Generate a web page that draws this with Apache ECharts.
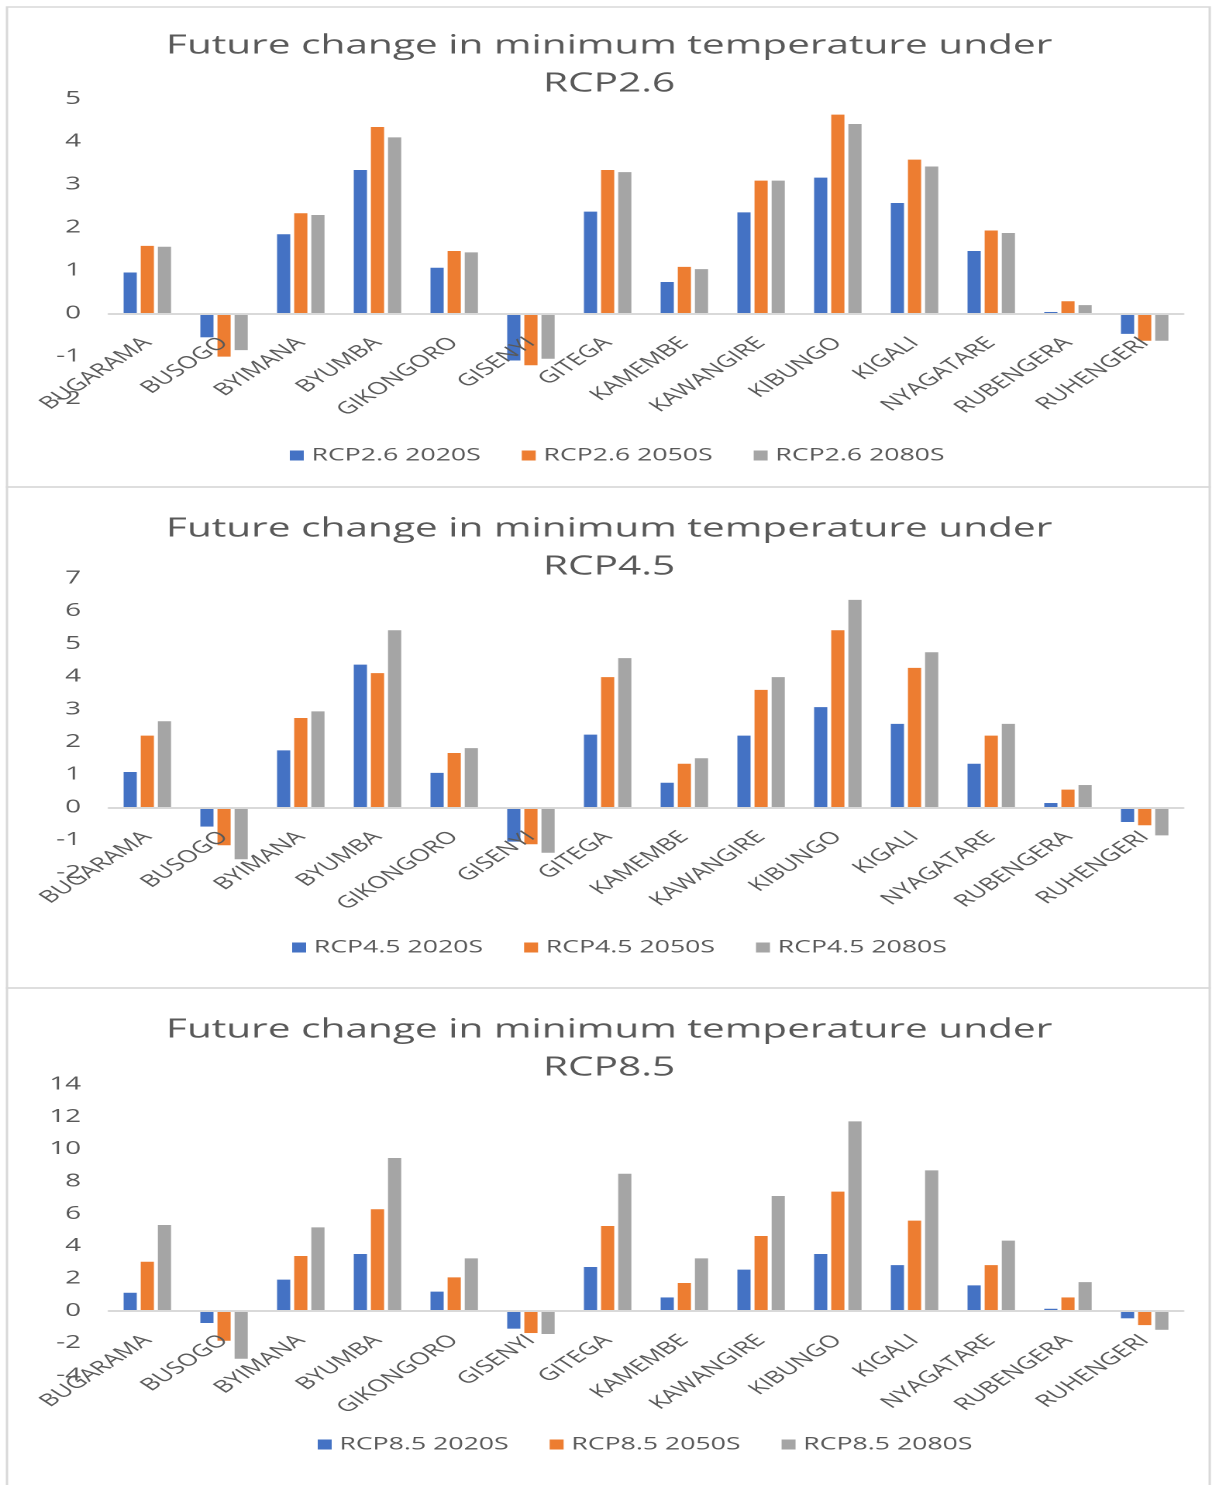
<!DOCTYPE html>
<html>
<head>
<meta charset="utf-8">
<title>Future change in minimum temperature</title>
<script src="https://cdn.jsdelivr.net/npm/echarts@6/dist/echarts.min.js"></script>
<style>
  html, body { margin: 0; padding: 0; background: #ffffff; overflow: hidden; }
  /* The figure is laid out at a narrow width and widened horizontally. */
  #chart { width: 782px; height: 1485px; transform: scaleX(1.5499); transform-origin: 0 0; }
</style>
</head>
<body>
<div id="chart"></div>
<script>
// Stations
const stations = ['BUGARAMA', 'BUSOGO', 'BYIMANA', 'BYUMBA', 'GIKONGORO', 'GISENYI', 'GITEGA',
  'KAMEMBE', 'KAWANGIRE', 'KIBUNGO', 'KIGALI', 'NYAGATARE', 'RUBENGERA', 'RUHENGERI'];

// RCP2.6 change in minimum temperature (°C)
const rcp26_2020s = [0.95, -0.56, 1.84, 3.34, 1.06, -1.10, 2.37, 0.73, 2.35, 3.16, 2.57, 1.45, 0.03, -0.48];
const rcp26_2050s = [1.57, -1.01, 2.33, 4.34, 1.45, -1.21, 3.34, 1.08, 3.09, 4.63, 3.58, 1.93, 0.28, -0.64];
const rcp26_2080s = [1.55, -0.86, 2.29, 4.10, 1.42, -1.06, 3.29, 1.03, 3.09, 4.41, 3.42, 1.87, 0.19, -0.64];

// RCP4.5 change in minimum temperature (°C)
const rcp45_2020s = [1.08, -0.59, 1.74, 4.36, 1.05, -1.05, 2.22, 0.75, 2.19, 3.06, 2.55, 1.33, 0.13, -0.45];
const rcp45_2050s = [2.19, -1.16, 2.73, 4.10, 1.66, -1.13, 3.98, 1.33, 3.59, 5.41, 4.26, 2.19, 0.54, -0.55];
const rcp45_2080s = [2.63, -1.59, 2.93, 5.41, 1.81, -1.39, 4.56, 1.50, 3.98, 6.34, 4.74, 2.55, 0.68, -0.86];

// RCP8.5 change in minimum temperature (°C)
const rcp85_2020s = [1.11, -0.76, 1.92, 3.51, 1.18, -1.11, 2.70, 0.82, 2.54, 3.51, 2.82, 1.57, 0.12, -0.47];
const rcp85_2050s = [3.03, -1.86, 3.38, 6.27, 2.06, -1.38, 5.24, 1.71, 4.62, 7.36, 5.57, 2.82, 0.82, -0.89];
const rcp85_2080s = [5.30, -2.97, 5.15, 9.44, 3.24, -1.44, 8.47, 3.24, 7.09, 11.71, 8.68, 4.33, 1.77, -1.18];

// Scenario titles, legend names and y-axis ranges
const scenarios = ['RCP2.6', 'RCP4.5', 'RCP8.5'];
const periods = ['2020S', '2050S', '2080S'];
const yRanges = [
  { min: -2, max: 5, interval: 1 },
  { min: -2, max: 7, interval: 1 },
  { min: -4, max: 14, interval: 2 }
];
const seriesValues = [
  [rcp26_2020s, rcp26_2050s, rcp26_2080s],
  [rcp45_2020s, rcp45_2050s, rcp45_2080s],
  [rcp85_2020s, rcp85_2050s, rcp85_2080s]
];

const colors = ['#4472C4', '#ED7D31', '#A5A5A5'];
const textColor = '#595959';
const font = 'Open Sans';

// Panel geometry (each chart sits in its own framed box)
const panels = [
  { y: 7,   h: 480, titleTop: 22,   gridTop: 98.7,   gridH: 300.4, legendTop: 442, legendLeft: 182 },
  { y: 487, h: 501, titleTop: 505,  gridTop: 578.3,  gridH: 294.4, legendTop: 934, legendLeft: 183.5 },
  { y: 988, h: 500, titleTop: 1006, gridTop: 1084.3, gridH: 291.1, legendTop: 1431, legendLeft: 200 }
];

// Category labels sit along the zero line: lift the x axis from the grid bottom
// by the share of the value range that lies below zero.
function zeroOffset(i) {
  const r = yRanges[i];
  return -((0 - r.min) / (r.max - r.min)) * panels[i].gridH;
}

const option = {
  backgroundColor: '#ffffff',
  color: colors,
  animation: false,
  textStyle: { fontFamily: font },
  graphic: panels.map(p => ({
    type: 'rect', silent: true, z: -1,
    shape: { x: 4.5, y: p.y, width: 776, height: p.h },
    style: { fill: 'transparent', stroke: '#D9D9D9', lineWidth: 1.5 }
  })),
  title: scenarios.map((s, i) => ({
    text: 'Future change in minimum temperature under\n' + s,
    left: 388, top: panels[i].titleTop, textAlign: 'center',
    textStyle: { color: textColor, fontFamily: font, fontSize: 26.2, fontWeight: 'normal', lineHeight: 38 }
  })),
  legend: scenarios.map((s, i) => ({
    data: periods.map(p => s + ' ' + p),
    left: panels[i].legendLeft, top: panels[i].legendTop,
    icon: 'rect', itemWidth: 9, itemHeight: 10, itemGap: 26.5,
    textStyle: { color: textColor, fontFamily: font, fontSize: 17.2 }
  })),
  grid: panels.map(p => ({ left: 70.3, width: 693, top: p.gridTop, height: p.gridH })),
  xAxis: scenarios.map((s, i) => ({
    type: 'category', gridIndex: i, data: stations, z: 5,
    offset: zeroOffset(i),
    axisLine: { onZero: false, lineStyle: { color: '#D9D9D9', width: 2 } },
    axisTick: { show: false },
    axisLabel: { interval: 0, rotate: 45, margin: 27, color: textColor, fontFamily: font, fontSize: 17 }
  })),
  yAxis: scenarios.map((s, i) => ({
    type: 'value', gridIndex: i,
    min: yRanges[i].min, max: yRanges[i].max, interval: yRanges[i].interval,
    axisLine: { show: false }, axisTick: { show: false }, splitLine: { show: false },
    axisLabel: { margin: 18, color: textColor, fontFamily: font, fontSize: 18 }
  })),
  series: []
};

scenarios.forEach((s, i) => {
  periods.forEach((p, j) => {
    option.series.push({
      name: s + ' ' + p, type: 'bar', xAxisIndex: i, yAxisIndex: i,
      data: seriesValues[i][j],
      barWidth: 8.5, barGap: '30%',
      itemStyle: { color: colors[j] }
    });
  });
});

const chart = echarts.init(document.getElementById('chart'), null, { renderer: 'canvas', devicePixelRatio: 2 });
chart.setOption(option);
</script>
</body>
</html>
